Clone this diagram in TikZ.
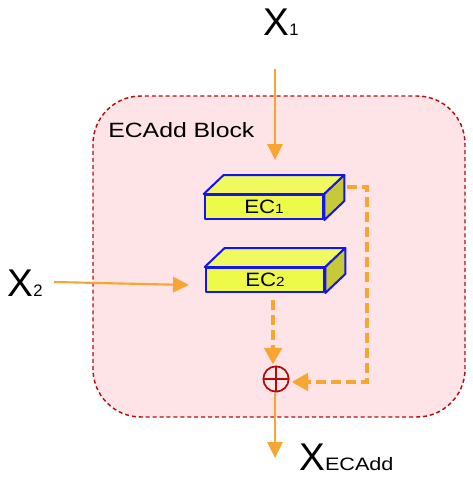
\documentclass[tikz,border=0pt]{standalone}
\usepackage{fontspec}
\setmainfont{Liberation Sans}
\usetikzlibrary{arrows.meta,calc}
\definecolor{arrowc}{RGB}{247,166,52}
\definecolor{boxred}{RGB}{180,16,16}
\definecolor{boxfill}{RGB}{254,228,231}
\definecolor{ecfront}{RGB}{238,250,74}
\definecolor{ectop}{RGB}{240,250,96}
\definecolor{ecside}{RGB}{198,202,56}
\definecolor{ecblue}{RGB}{20,20,235}
\definecolor{plusred}{RGB}{180,10,10}
\newcommand{\smallsub}[2]{{\fontsize{#1}{#1}\selectfont #2}}
\tikzset{
  solidarr/.style={draw=arrowc, line width=1.6pt, -{Triangle[width=11.5pt,length=12pt]}},
  dasharr/.style={draw=arrowc, line width=3.2pt, dash pattern=on 7.5pt off 3.8pt, -{Triangle[width=13pt,length=12.5pt]}},
  ecface/.style={draw=ecblue, line width=1.5pt, line join=round},
  ecbox/.style={ecface, fill=ecfront, minimum width=89pt, minimum height=18pt, inner sep=0pt, font=\fontsize{14.5}{16}\selectfont},
  bigx/.style={font=\fontsize{29}{32}\selectfont, inner sep=0pt},
  plusnode/.style={circle, draw=plusred, line width=1.3pt, minimum width=19pt, minimum height=19pt, inner sep=0pt,
    path picture={\draw[plusred, line width=1.3pt] (path picture bounding box.north) -- (path picture bounding box.south)
      (path picture bounding box.west) -- (path picture bounding box.east);}},
}
\begin{document}
\begin{tikzpicture}[x=0.75pt,y=-0.75pt]
\useasboundingbox (0,0) rectangle (472,478);
% block
\draw[draw=boxred, fill=boxfill, line width=1.1pt, dash pattern=on 3pt off 2.2pt, rounded corners=36pt]
  (93,96) rectangle (465,417);
\node[anchor=west, inner sep=0pt, font=\fontsize{15.5}{18}\selectfont] (lbl) at (108,130) {\scalebox{1.2}[1]{ECAdd Block}};
% EC boxes
\node[ecbox] (EC1) at (264,207) {\scalebox{1.15}[1]{EC\smallsub{10}{1}}};
\node[ecbox] (EC2) at (265,280) {\scalebox{1.15}[1]{EC\smallsub{10}{2}}};
\foreach \b in {EC1,EC2}{
  \draw[ecface, fill=ectop] (\b.north west) -- (\b.north east) -- ($(\b.north east)+(20,-19)$) -- ($(\b.north west)+(20,-19)$) -- cycle;
  \draw[ecface, fill=ecside] (\b.north east) -- (\b.south east) -- ($(\b.south east)+(20,-19)$) -- ($(\b.north east)+(20,-19)$) -- cycle;
}
% inputs / outputs
\node[bigx] (X1) at (281,22) {X\smallsub{12.5}{1}};
\node[bigx] (X2) at (25,283) {X\smallsub{12.5}{2}};
\node[bigx, anchor=west] (Xo) at (299,457) {X\scalebox{1.2}[1]{\smallsub{13.5}{ECAdd}}};
\node[plusnode] (plus) at (276,379) {};
% connectors
\coordinate (x1s) at (275,69);
\coordinate (x1e) at (275,160);
\draw[solidarr] (x1s) -- (x1e);
\coordinate (x2s) at (54,282);
\coordinate (x2e) at (189,285);
\draw[solidarr] (x2s) -- (x2e);
\coordinate (ec2s) at (273,300);
\draw[dasharr] (ec2s) -- ($(plus.north)+(-3,-1)$);
\coordinate (ec1s) at (347,187);
\coordinate (cr) at (367,187);
\draw[dasharr] (ec1s) -- (cr) |- ($(plus.east)+(2,3)$);
\coordinate (oute) at (275,458);
\draw[solidarr] (plus.south -| oute) -- (oute);
\end{tikzpicture}
\end{document}
